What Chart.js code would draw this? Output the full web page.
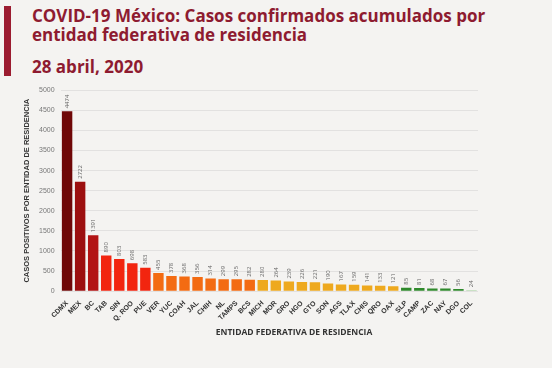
<!DOCTYPE html>
<html>
<head>
<meta charset="utf-8">
<script src="https://cdn.jsdelivr.net/npm/chart.js@4"></script>
<style>
    body {
        margin: 0;
        width: 552px;
        height: 368px;
        background: #f4f3f1;
        font-family: "Open Sans", sans-serif;
        overflow: hidden;
        position: relative;
    }
    .bar-mark {
        position: absolute;
        left: 4px;
        top: 6px;
        width: 7px;
        height: 70px;
        background: #9b1c30;
    }
    h1 {
        position: absolute;
        left: 32px;
        top: 6px;
        margin: 0;
        font-size: 17px;
        line-height: 19px;
        font-weight: 700;
        color: #8e1b30;
    }
    h2 {
        position: absolute;
        left: 32px;
        top: 55px;
        margin: 0;
        font-size: 17px;
        font-weight: 700;
        color: #8e1b30;
    }
    .chart-box {
        position: absolute;
        left: 20px;
        top: 80px;
        width: 458px;
        height: 265px;
    }
</style>
</head>
<body>
<div class="bar-mark"></div>
<h1>COVID-19 México: Casos confirmados acumulados por<br>entidad federativa de residencia</h1>
<h2>28 abril, 2020</h2>
<div class="chart-box"><canvas id="casesChart"></canvas></div>

<script>
// ========== DATA ==========
const states = ["CDMX", "MEX", "BC", "TAB", "SIN", "Q. ROO", "PUE", "VER", "YUC", "COAH", "JAL",
    "CHIH", "NL", "TAMPS", "BCS", "MICH", "MOR", "GRO", "HGO", "GTO", "SON", "AGS", "TLAX",
    "CHIS", "QRO", "OAX", "SLP", "CAMP", "ZAC", "NAY", "DGO", "COL"];
const cases = [4474, 2722, 1391, 890, 803, 698, 583, 455, 378, 368, 356,
    314, 299, 295, 282, 280, 264, 239, 226, 221, 190, 167, 159,
    141, 133, 121, 85, 81, 68, 67, 56, 24];
const yTicks = [0, 500, 1000, 1500, 2000, 2500, 3000, 3500, 4000, 4500, 5000];
const xTitle = "ENTIDAD FEDERATIVA DE RESIDENCIA";

// colour groups by position
function barColor(i) {
    if (i === 0) return "#6f0707";
    if (i === 1) return "#9c0f0f";
    if (i === 2) return "#b21414";
    if (i <= 6) return "#f2250f";
    if (i <= 14) return "#f36b12";
    if (i <= 25) return "#eea91e";
    if (i <= 30) return "#2f8a2c";
    return "#9fd09a";
}

// ========== VALUE LABELS (rotated) + X TITLE ==========
const valueLabels = {
    id: "valueLabels",
    afterDatasetsDraw(chart) {
        const ctx = chart.ctx;
        const meta = chart.getDatasetMeta(0);
        ctx.save();
        ctx.font = "6px 'Open Sans', sans-serif";
        ctx.fillStyle = "#666";
        ctx.textBaseline = "middle";
        meta.data.forEach((bar, i) => {
            ctx.save();
            ctx.translate(bar.x, bar.y - 3);
            ctx.rotate(-Math.PI / 2);
            ctx.fillText(String(cases[i]), 0, 0);
            ctx.restore();
        });
        // x axis title, sitting a bit right of centre like the original
        ctx.font = "bold 8.5px 'Open Sans', sans-serif";
        ctx.fillStyle = "#333";
        ctx.textAlign = "center";
        ctx.fillText(xTitle, 274, chart.height - 12);
        ctx.restore();
    }
};

const ctx = document.getElementById("casesChart").getContext("2d");
new Chart(ctx, {
    type: "bar",
    data: {
        labels: states,
        datasets: [
            {
                data: cases,
                backgroundColor: cases.map((v, i) => barColor(i)),
                barPercentage: 0.8,
                categoryPercentage: 1.0
            }
        ]
    },
    options: {
        responsive: true,
        maintainAspectRatio: false,
        animation: false,
        layout: { padding: { top: 4, right: 0, bottom: 22 } },
        plugins: {
            legend: { display: false },
            tooltip: { enabled: false }
        },
        scales: {
            y: {
                min: 0,
                max: 5000,
                afterBuildTicks: function (axis) {
                    axis.ticks = yTicks.map(v => ({ value: v }));
                },
                ticks: {
                    color: "#777",
                    font: { size: 7 },
                    padding: 6,
                    callback: function (value) {
                        return String(value);
                    }
                },
                grid: {
                    color: "rgba(0, 0, 0, 0.07)",
                    drawTicks: false
                },
                border: { display: false },
                title: {
                    display: true,
                    text: "CASOS POSITIVOS POR ENTIDAD DE RESIDENCIA",
                    color: "#333",
                    font: { size: 7.5, weight: "bold" },
                    padding: 2
                }
            },
            x: {
                grid: { display: false },
                border: { display: false },
                ticks: {
                    color: "#333",
                    font: { size: 7, weight: "bold" },
                    minRotation: 45,
                    maxRotation: 45,
                    autoSkip: false,
                    padding: 0
                }
            }
        }
    },
    plugins: [valueLabels]
});
</script>
</body>
</html>
